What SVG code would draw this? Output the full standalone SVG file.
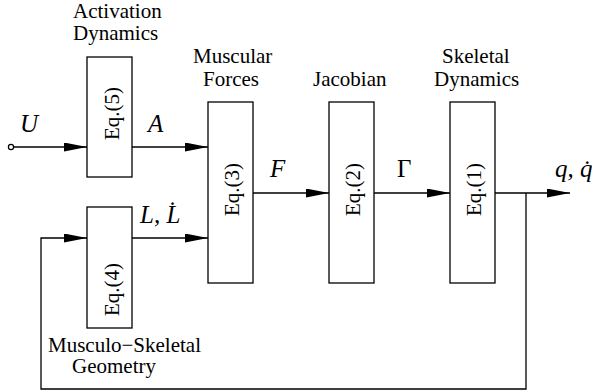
<svg xmlns="http://www.w3.org/2000/svg" width="592" height="392" viewBox="0 0 592 392">
<style>
.box{fill:#fff;stroke:#000;stroke-width:1.3}
.ln{fill:none;stroke:#000;stroke-width:1.3}
</style>
<defs>
<marker id="ah" markerUnits="userSpaceOnUse" markerWidth="24" markerHeight="10" refX="23" refY="4.5" orient="auto">
<path d="M0,0 L23,4.5 L0,9 z" fill="#000"/>
</marker>
</defs>
<g id="connectors">
<circle cx="11" cy="147" r="2.6" fill="#fff" stroke="#000" stroke-width="1.2"/>
<line class="ln" x1="13.6" y1="147" x2="87" y2="147" marker-end="url(#ah)"/>
<line class="ln" x1="132" y1="147" x2="208" y2="147" marker-end="url(#ah)"/>
<line class="ln" x1="253" y1="193" x2="329" y2="193" marker-end="url(#ah)"/>
<line class="ln" x1="374" y1="193" x2="450" y2="193" marker-end="url(#ah)"/>
<line class="ln" x1="495" y1="193" x2="570" y2="193" marker-end="url(#ah)"/>
<polyline class="ln" points="526,193 526,389 41,389 41,238 87,238" marker-end="url(#ah)"/>
<line class="ln" x1="132" y1="238" x2="208" y2="238" marker-end="url(#ah)"/>
</g>
<g id="signals" font-family="Liberation Serif" font-size="25" fill="#000">
<text font-style="italic" x="20" y="132">U</text>
<text font-style="italic" x="148" y="132">A</text>
<text font-style="italic" x="270" y="177">F</text>
<text x="397" y="177">Γ</text>
<text font-style="italic" x="140" y="223">L, L̇</text>
<text font-style="italic" x="555" y="177">q, q̇</text>
</g>
<g id="activation" font-family="Liberation Serif" font-size="21">
<rect class="box" x="87" y="57" width="45" height="120"/>
<text transform="translate(118.5,140) rotate(-90)">Eq.(5)</text>
<text x="73" y="18">Activation</text>
<text x="73" y="40">Dynamics</text>
</g>
<g id="muscular" font-family="Liberation Serif" font-size="21">
<rect class="box" x="208" y="102" width="45" height="181"/>
<text transform="translate(238.5,216) rotate(-90)">Eq.(3)</text>
<text x="193" y="63">Muscular</text>
<text x="203" y="86">Forces</text>
</g>
<g id="jacobian" font-family="Liberation Serif" font-size="21">
<rect class="box" x="329" y="102" width="45" height="181"/>
<text transform="translate(359.5,216) rotate(-90)">Eq.(2)</text>
<text x="313" y="86">Jacobian</text>
</g>
<g id="skeletal" font-family="Liberation Serif" font-size="21">
<rect class="box" x="450" y="102" width="45" height="181"/>
<text transform="translate(480.5,216) rotate(-90)">Eq.(1)</text>
<text x="442" y="63">Skeletal</text>
<text x="434" y="86">Dynamics</text>
</g>
<g id="geometry" font-family="Liberation Serif" font-size="21">
<rect class="box" x="87" y="207" width="45" height="121"/>
<text transform="translate(118.5,316) rotate(-90)">Eq.(4)</text>
<text x="48" y="352">Musculo−Skeletal</text>
<text x="72" y="373">Geometry</text>
</g>
</svg>
